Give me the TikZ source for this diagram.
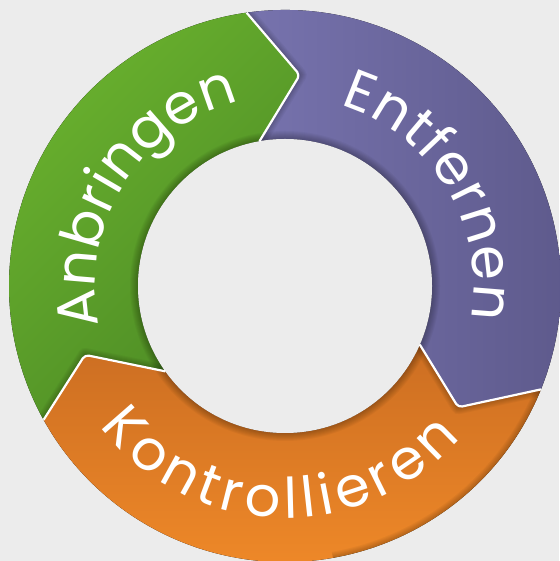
\documentclass[tikz,border=0pt]{standalone}
\usepackage{fontspec}
\usetikzlibrary{decorations.text}
\newfontfamily\ringfont{Poppins}
\newcommand{\ringlabel}{\ringfont\fontsize{56}{68}\selectfont}
\definecolor{bggrey}{HTML}{ECECEC}
\definecolor{greenlight}{HTML}{6AB22E}
\definecolor{greendark}{HTML}{4C8A25}
\definecolor{purplelight}{HTML}{7773AE}
\definecolor{purpledark}{HTML}{5E5A8C}
\definecolor{orangetop}{HTML}{CC6E22}
\definecolor{orangebottom}{HTML}{F38C29}
% ring segments, head pointing clockwise
\newcommand{\greenseg}{(209:276) arc[start angle=209, end angle=98, radius=276]
	-- (86:211.5) -- (100:147) arc[start angle=100, end angle=215.5, radius=147]
	-- (199:211.5) -- cycle}
\newcommand{\purpleseg}{(98:276) arc[start angle=98, end angle=-22, radius=276]
	-- (-35:211.5) -- (-23.5:147) arc[start angle=-23.5, end angle=100, radius=147]
	-- (86:211.5) -- cycle}
\newcommand{\orangeseg}{(-22:276) arc[start angle=-22, end angle=-151, radius=276]
	-- (-161:211.5) -- (-144.5:147) arc[start angle=-144.5, end angle=-23.5, radius=147]
	-- (-35:211.5) -- cycle}

\begin{document}
\begin{tikzpicture}[y=1pt, x=1pt]
	\tikzset{
		divider/.style={draw=white, line width=2.2pt, rounded corners=4pt, line join=round},
		softshadow/.style={black, opacity=0.035, line width={#1*2pt}, line join=round},
		ringtext/.style={decorate, decoration={text along path, text align=fit to path, text color=white, text={|\ringlabel|#1}}}
	}

	%background
	\fill[bggrey] (0,0) rectangle (559,561);
	\useasboundingbox (0,0) rectangle (559,561);

	\begin{scope}[shift={(285,275)}]
	\coordinate (ring centre) at (0,0);

	%segments
	\fill[top color=greenlight, bottom color=greendark, shading angle=45] \greenseg;
	\fill[left color=purplelight, right color=purpledark] \purpleseg;
	\fill[top color=orangetop, bottom color=orangebottom] \orangeseg;

	%shadows of the heads
	\begin{scope}
		\clip \purpleseg;
		\foreach \k in {1,...,7}
			\draw[softshadow=\k] (98:276) -- (86:211.5) -- (100:147);
	\end{scope}
	\begin{scope}
		\clip \orangeseg;
		\foreach \k in {1,...,7}
			\draw[softshadow=\k] (-22:276) -- (-35:211.5) -- (-23.5:147);
		\foreach \k in {1,...,6}
			\draw[softshadow=\k] (-20:276) arc[start angle=-20, end angle=-80, radius=276];
	\end{scope}
	\begin{scope}
		\clip \greenseg;
		\foreach \k in {1,...,7}
			\draw[softshadow=\k] (-151:276) -- (-161:211.5) -- (-144.5:147);
	\end{scope}

	%inner shadow
	\foreach \k in {1,...,8}
		\draw[softshadow=\k] (ring centre) circle[radius=147];
	\fill[bggrey] (ring centre) circle[radius=147];

	%dividers
	\draw[divider] (98:276) -- (86:211.5) -- (100:147);
	\draw[divider] (-22:276) -- (-35:211.5) -- (-23.5:147);
	\draw[divider] (-151:276) -- (-161:211.5) -- (-144.5:147);

	%labels
	\path[ringtext=Anbringen] (192:190) arc[start angle=192, end angle=104, radius=190];
	\path[ringtext=Entfernen] (73:189) arc[start angle=73, end angle=-10, radius=189];
	\path[ringtext=Kontrollieren] (217:232) arc[start angle=217, end angle=319, radius=232];
	\end{scope}
\end{tikzpicture}
\end{document}
